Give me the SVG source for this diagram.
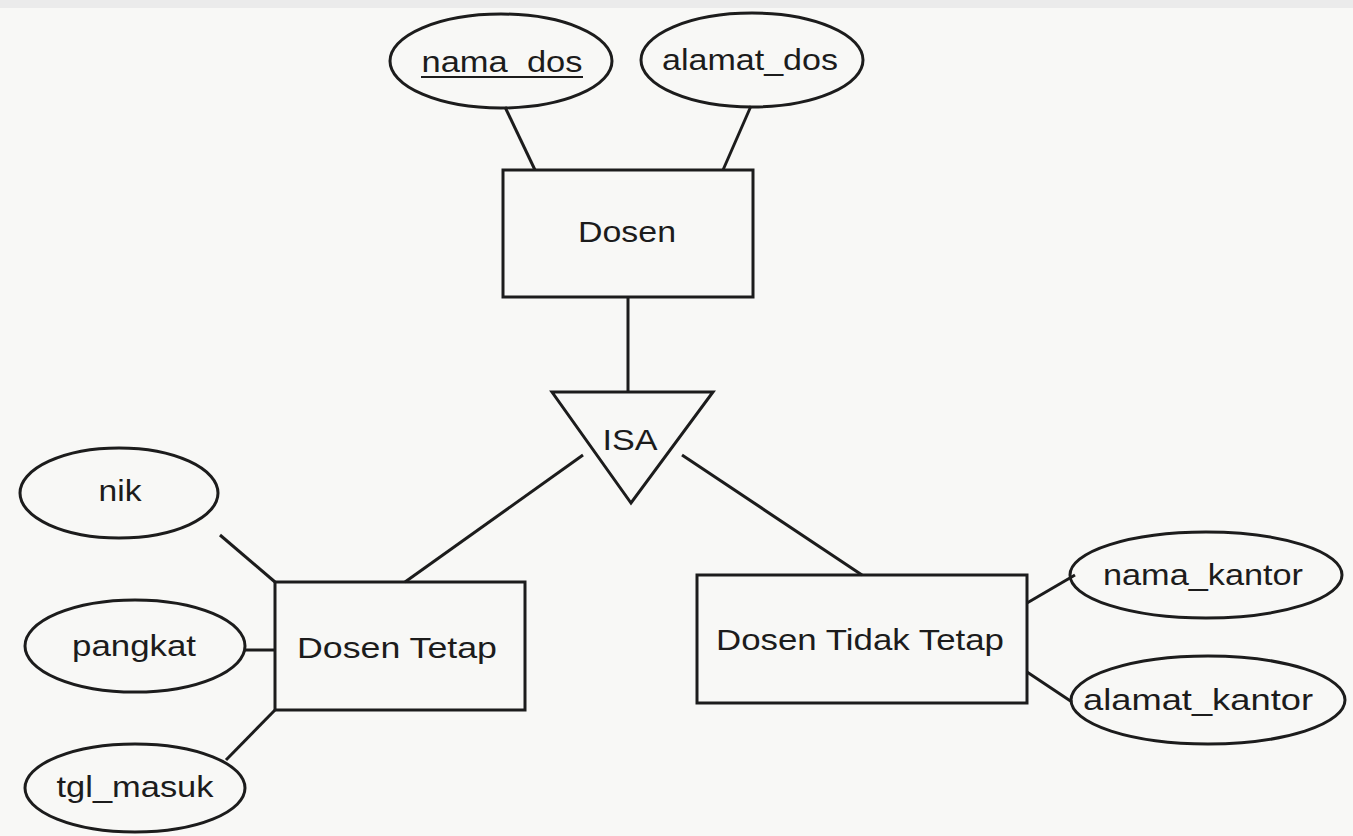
<svg xmlns="http://www.w3.org/2000/svg" width="1353" height="836" viewBox="0 0 1353 836">
<style>
.shape{fill:none;stroke:#1c1c1c;stroke-width:3}
.conn line{stroke:#1c1c1c;stroke-width:3}
text{font-family:"Liberation Sans",Arial,sans-serif;font-size:30px;fill:#1c1c1c;text-anchor:middle}
</style>
<rect x="0" y="0" width="1353" height="836" fill="#f8f8f6"/>
<rect x="0" y="0" width="1353" height="8" fill="#ebebeb"/>
<g class="conn" id="connectors">
<line x1="505" y1="107" x2="535" y2="170"/>
<line x1="751" y1="106" x2="723" y2="170"/>
<line x1="628" y1="297" x2="628" y2="392"/>
<line x1="583" y1="455" x2="405" y2="582"/>
<line x1="682" y1="455" x2="862" y2="575"/>
<line x1="220" y1="535" x2="275" y2="582"/>
<line x1="245" y1="650" x2="275" y2="650"/>
<line x1="226" y1="760" x2="275" y2="710"/>
<line x1="1027" y1="603" x2="1075" y2="575"/>
<line x1="1027" y1="672" x2="1072" y2="702"/>
</g>
<g id="nama_dos">
<ellipse class="shape" cx="501" cy="61" rx="111" ry="47"/>
<text x="502" y="72" textLength="161" lengthAdjust="spacingAndGlyphs">nama_dos</text>
<line x1="421" y1="77" x2="583" y2="77" stroke="#1c1c1c" stroke-width="2"/>
</g>
<g id="alamat_dos">
<ellipse class="shape" cx="752" cy="60" rx="111" ry="47"/>
<text x="750" y="70" textLength="176" lengthAdjust="spacingAndGlyphs">alamat_dos</text>
</g>
<g id="dosen">
<rect class="shape" x="503" y="170" width="250" height="127"/>
<text x="627" y="242" textLength="98" lengthAdjust="spacingAndGlyphs">Dosen</text>
</g>
<g id="isa">
<polygon class="shape" points="552,392 713,392 631,503"/>
<text x="630" y="450" textLength="55" lengthAdjust="spacingAndGlyphs">ISA</text>
</g>
<g id="nik">
<ellipse class="shape" cx="119" cy="493" rx="99" ry="45"/>
<text x="120" y="501" textLength="43" lengthAdjust="spacingAndGlyphs">nik</text>
</g>
<g id="pangkat">
<ellipse class="shape" cx="135" cy="646" rx="110" ry="46"/>
<text x="134" y="656" textLength="124" lengthAdjust="spacingAndGlyphs">pangkat</text>
</g>
<g id="tgl_masuk">
<ellipse class="shape" cx="135" cy="788" rx="110" ry="44"/>
<text x="135" y="797" textLength="157" lengthAdjust="spacingAndGlyphs">tgl_masuk</text>
</g>
<g id="dosen_tetap">
<rect class="shape" x="275" y="582" width="250" height="128"/>
<text x="397" y="658" textLength="200" lengthAdjust="spacingAndGlyphs">Dosen Tetap</text>
</g>
<g id="dosen_tidak_tetap">
<rect class="shape" x="697" y="575" width="330" height="128"/>
<text x="860" y="650" textLength="288" lengthAdjust="spacingAndGlyphs">Dosen Tidak Tetap</text>
</g>
<g id="nama_kantor">
<ellipse class="shape" cx="1206" cy="575" rx="136" ry="43"/>
<text x="1203" y="585" textLength="200" lengthAdjust="spacingAndGlyphs">nama_kantor</text>
</g>
<g id="alamat_kantor">
<ellipse class="shape" cx="1208" cy="700" rx="137" ry="44"/>
<text x="1198" y="710" textLength="230" lengthAdjust="spacingAndGlyphs">alamat_kantor</text>
</g>
</svg>
